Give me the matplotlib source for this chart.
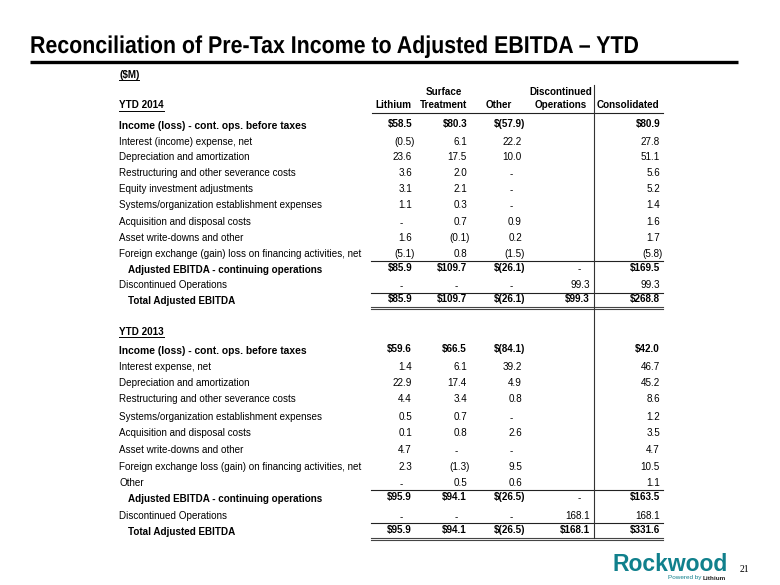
import matplotlib
matplotlib.use("Agg")
import matplotlib.pyplot as plt
from matplotlib.textpath import TextPath
from matplotlib.patches import PathPatch
from matplotlib.font_manager import FontProperties
from matplotlib.transforms import Affine2D

# ---------------- data ----------------
title = "Reconciliation of Pre-Tax Income to Adjusted EBITDA \u2013 YTD"
unit_label = "($M)"
col_head_top = ["", "Surface", "", "Discontinued", ""]
col_head_bottom = ["Lithium", "Treatment", "Other", "Operations", "Consolidated"]

# None = blank cell, 0.0 = shown as "-"
labels_2014 = [
    "Income (loss) - cont. ops. before taxes",
    "Interest (income) expense, net",
    "Depreciation and amortization",
    "Restructuring and other severance costs",
    "Equity investment adjustments",
    "Systems/organization establishment expenses",
    "Acquisition and disposal costs",
    "Asset write-downs and other",
    "Foreign exchange (gain) loss on financing activities, net",
    "Adjusted EBITDA - continuing operations",
    "Discontinued Operations",
    "Total Adjusted EBITDA",
]
lithium_2014 = [58.5, -0.5, 23.6, 3.6, 3.1, 1.1, 0.0, 1.6, -5.1, 85.9, 0.0, 85.9]
surface_2014 = [80.3, 6.1, 17.5, 2.0, 2.1, 0.3, 0.7, -0.1, 0.8, 109.7, 0.0, 109.7]
other_2014 = [-57.9, 22.2, 10.0, 0.0, 0.0, 0.0, 0.9, 0.2, -1.5, -26.1, 0.0, -26.1]
discont_2014 = [None, None, None, None, None, None, None, None, None, 0.0, 99.3, 99.3]
consol_2014 = [80.9, 27.8, 51.1, 5.6, 5.2, 1.4, 1.6, 1.7, -5.8, 169.5, 99.3, 268.8]

labels_2013 = [
    "Income (loss) - cont. ops. before taxes",
    "Interest expense, net",
    "Depreciation and amortization",
    "Restructuring and other severance costs",
    "Systems/organization establishment expenses",
    "Acquisition and disposal costs",
    "Asset write-downs and other",
    "Foreign exchange loss (gain) on financing activities, net",
    "Other",
    "Adjusted EBITDA - continuing operations",
    "Discontinued Operations",
    "Total Adjusted EBITDA",
]
lithium_2013 = [59.6, 1.4, 22.9, 4.4, 0.5, 0.1, 4.7, 2.3, 0.0, 95.9, 0.0, 95.9]
surface_2013 = [66.5, 6.1, 17.4, 3.4, 0.7, 0.8, 0.0, -1.3, 0.5, 94.1, 0.0, 94.1]
other_2013 = [-84.1, 39.2, 4.9, 0.8, 0.0, 2.6, 0.0, 9.5, 0.6, -26.5, 0.0, -26.5]
discont_2013 = [None, None, None, None, None, None, None, None, None, 0.0, 168.1, 168.1]
consol_2013 = [42.0, 46.7, 45.2, 8.6, 1.2, 3.5, 4.7, 10.5, 1.1, 163.5, 168.1, 331.6]

# ---------------- layout ----------------
FONT = ["Liberation Sans", "DejaVu Sans"]
FS = 7.1
TEAL = "#10808c"

fig = plt.figure(figsize=(7.8, 5.85), dpi=100)
ax = fig.add_axes([0, 0, 1, 1])
ax.set_xlim(0, 780)
ax.set_ylim(585, 0)
ax.axis("off")

# title (condensed bold, drawn as a horizontally squeezed text path)
tp = TextPath((0, 0), title, size=17.5 * 100 / 72,
              prop=FontProperties(family="Liberation Sans", weight="bold"))
tw = tp.get_extents().x1
sx = 608.0 / tw
tr = Affine2D().scale(sx, -1).translate(30, 53) + ax.transData
ax.add_patch(PathPatch(tp, transform=tr, facecolor="black", edgecolor="none"))
ax.plot([30, 738], [62, 62], color="black", lw=2.4, solid_capstyle="butt")

label_x = 119
col_right = [415, 470, 525, 593, 663]
rule_x = (371, 663)
PAD = 3.0

def fmt(v, dollar):
    if v is None:
        return None
    if v == 0:
        return "-"
    s = f"{abs(v):.1f}"
    if v < 0:
        s = f"({s})"
    return ("$" + s) if dollar else s

underline_items = []

def draw_section(y0, head, labels, cols, bold_rows, indent_rows, ys, rules, dbl):
    t = ax.text(label_x, y0, head, family=FONT, fontsize=FS, fontweight="bold",
                ha="left", va="center")
    underline_items.append((t, y0 + 5))
    for i, lab in enumerate(labels):
        bold = i in bold_rows
        x = label_x + (9 if i in indent_rows else 0)
        ax.text(x, ys[i], lab, family=FONT, fontsize=FS + (0.3 if i == 0 else 0),
                fontweight="bold" if bold else "normal", ha="left", va="center")
        for c, col in enumerate(cols):
            v = col[i]
            s = fmt(v, bold)
            if s is None:
                continue
            yy = ys[i] - (2 if bold else 0)
            if s == "-":
                ax.text(col_right[c] - 14, yy + 1.5, s, family=FONT, fontsize=FS,
                        ha="center", va="center")
            else:
                xr = col_right[c] - (PAD if v > 0 else 0)
                ax.text(xr, yy, s, family=FONT, fontsize=FS,
                        fontweight="bold" if bold else "normal",
                        ha="right", va="center")
    for ry in rules:
        ax.plot(rule_x, [ry, ry], color="#222222", lw=0.8)
    ax.plot(rule_x, [dbl, dbl], color="#444444", lw=0.8)
    ax.plot(rule_x, [dbl + 2, dbl + 2], color="#444444", lw=0.8)

# unit label and headers
t = ax.text(label_x, 75, unit_label, family=FONT, fontsize=FS, fontweight="bold",
            ha="left", va="center")
underline_items.append((t, 80))

head_centers = [393, 444, 499, 561, 628]
for c in range(5):
    if col_head_top[c]:
        ax.text(head_centers[c], 92, col_head_top[c], family=FONT, fontsize=FS,
                fontweight="bold", ha="center", va="center")
    ax.text(head_centers[c], 105.5, col_head_bottom[c], family=FONT, fontsize=FS,
            fontweight="bold", ha="center", va="center")
ax.plot([372, 663], [113, 113], color="#222222", lw=0.8)

ys_2014 = [126, 142, 157, 173, 189, 205, 222, 238, 254, 270, 285, 301]
draw_section(105.5, "YTD 2014", labels_2014,
             [lithium_2014, surface_2014, other_2014, discont_2014, consol_2014],
             bold_rows={0, 9, 11}, indent_rows={9, 11}, ys=ys_2014,
             rules=[261, 293], dbl=306.5)

ys_2013 = [351, 367, 383, 399, 417, 433, 450, 467, 483, 499, 516, 532]
draw_section(332, "YTD 2013", labels_2013,
             [lithium_2013, surface_2013, other_2013, discont_2013, consol_2013],
             bold_rows={0, 9, 11}, indent_rows={9, 11}, ys=ys_2013,
             rules=[490, 523], dbl=538)

# vertical separator
ax.plot([594, 594], [85, 538], color="#333333", lw=0.8)

# logo and page number
ax.text(612, 571, "Rockwood", family=FONT, fontsize=16.5, fontweight="bold",
        color=TEAL, ha="left", va="baseline")
ax.text(703, 578, "Powered by ", family=FONT, fontsize=4.6, color=TEAL,
        ha="right", va="center")
ax.text(703, 578, "Lithium", family=FONT, fontsize=4.6, fontweight="bold",
        color="#222222", ha="left", va="center")
ax.text(740, 569, "21", family=["Liberation Serif", "DejaVu Serif"], fontsize=7,
        ha="left", va="center")

# underline for underlined text
fig.canvas.draw()
r = fig.canvas.get_renderer()
inv = ax.transData.inverted()
for t, uy in underline_items:
    bb = t.get_window_extent(r)
    x0 = inv.transform((bb.x0, bb.y0))[0]
    x1 = inv.transform((bb.x1, bb.y0))[0]
    ax.plot([x0, x1], [uy, uy], color="black", lw=0.7)

fig.savefig("out.png", dpi=100)
